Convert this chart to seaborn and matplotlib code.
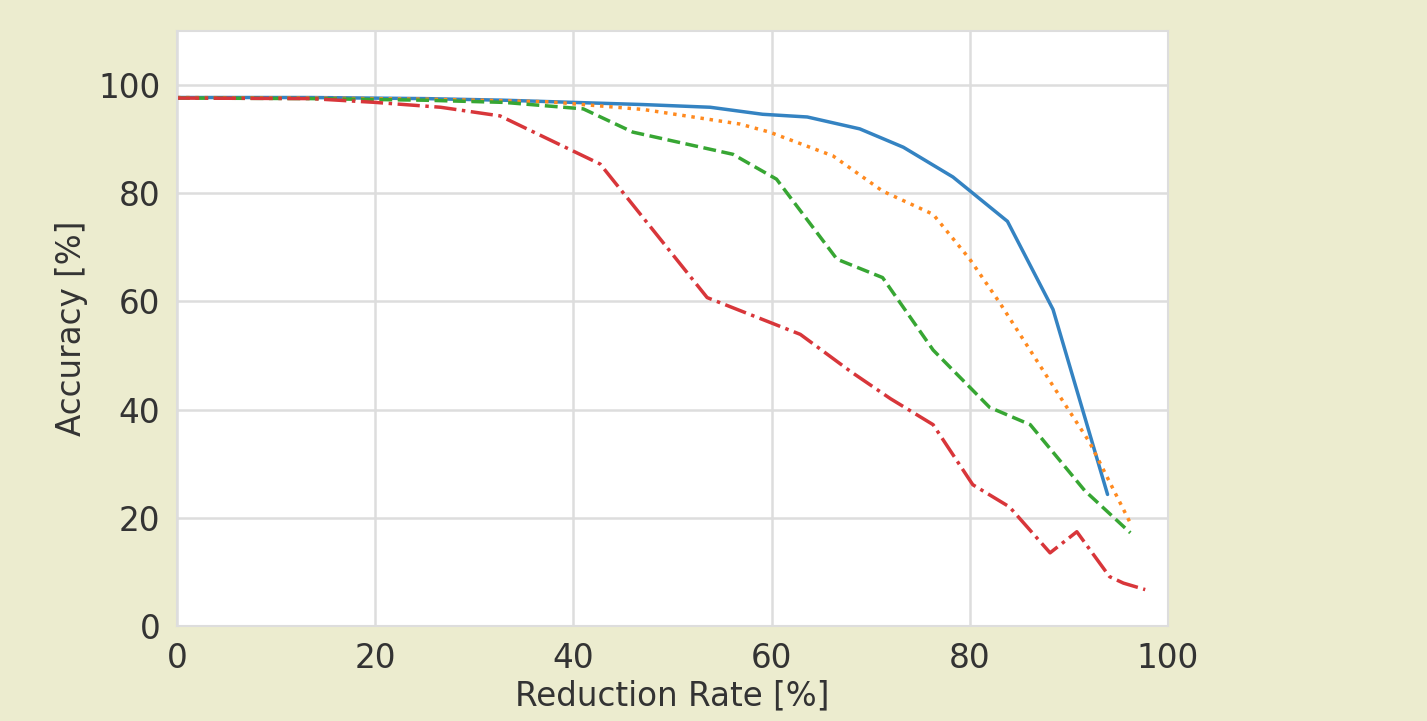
"""
Accuracy vs. reduction rate for four pruning curves.
"""

import numpy as np
import pandas as pd
import matplotlib
matplotlib.use("Agg")
import matplotlib.pyplot as plt
import seaborn as sns

# data
blue_x = [0, 13.5, 25, 33, 40, 47, 53.8, 59.1, 63.6, 68.9, 73.3, 78.3, 83.8, 88.4, 93.9]
blue_y = [97.7, 97.7, 97.5, 97.2, 96.8, 96.4, 95.9, 94.6, 94.1, 91.9, 88.5, 83.0, 74.8, 58.5, 24.3]

orange_x = [0, 13.5, 25, 33, 37.6, 47, 56.8, 59.8, 66.2, 71.2, 76.3, 80.0, 83.0, 88.0, 92.1, 96.2]
orange_y = [97.7, 97.6, 97.4, 97.1, 96.9, 95.5, 92.8, 91.3, 86.9, 80.4, 76.1, 67.8, 59.8, 45.5, 33.9, 19.0]

green_x = [0, 13.5, 25, 33, 41.0, 46.0, 56.1, 60.5, 66.6, 71.2, 76.3, 82.0, 86.1, 91.6, 96.2]
green_y = [97.6, 97.5, 97.2, 96.8, 95.6, 91.3, 87.2, 82.6, 67.8, 64.4, 51.0, 40.4, 37.2, 25.0, 17.2]

red_x = [0, 13.5, 20, 26.6, 32.6, 42.7, 53.5, 62.9, 68.0, 72.0, 76.3, 80.3, 84.0, 88.1, 90.8, 94.1, 95.5, 97.7]
red_y = [97.6, 97.5, 96.8, 95.9, 94.3, 85.4, 60.7, 53.9, 47.0, 42.0, 37.2, 26.1, 22.0, 13.5, 17.4, 9.1, 7.9, 6.7]

x_ticks = [0, 20, 40, 60, 80, 100]
y_ticks = [0, 20, 40, 60, 80, 100]

series = [
    (blue_x, blue_y, "#3483c2", "-"),
    (orange_x, orange_y, "#ff8a1f", ":"),
    (green_x, green_y, "#37a633", "--"),
    (red_x, red_y, "#d8363a", "-."),
]


def main():
    sns.set_theme(style="whitegrid")
    plt.rcParams["font.family"] = ["DejaVu Sans"]
    plt.rcParams["text.color"] = "#333333"
    plt.rcParams["axes.labelcolor"] = "#333333"
    plt.rcParams["xtick.color"] = "#333333"
    plt.rcParams["ytick.color"] = "#333333"

    bg = "#ececcf"
    fig = plt.figure(figsize=(14.27, 7.21), dpi=100, facecolor=bg)
    ax = fig.add_axes([0.124, 0.132, 0.6945, 0.825])

    for xs, ys, color, ls in series:
        df = pd.DataFrame({"x": xs, "y": ys})
        sns.lineplot(data=df, x="x", y="y", ax=ax, color=color,
                     linestyle=ls, linewidth=2.5, estimator=None, sort=False)

    ax.set_xlim(0, 100)
    ax.set_ylim(0, 110)
    ax.set_xticks(x_ticks)
    ax.set_yticks(y_ticks)
    ax.tick_params(labelsize=23.5, pad=6)
    ax.set_xlabel("Reduction Rate [%]", fontsize=23.5, labelpad=3)
    ax.set_ylabel("Accuracy [%]", fontsize=23.5, labelpad=7)
    for s in ax.spines.values():
        s.set_color("#dddddd")
        s.set_linewidth(1.5)
    ax.grid(color="#dddddd", linewidth=1.8)

    fig.savefig("out.png", dpi=100, facecolor=bg)
    plt.close(fig)


if __name__ == "__main__":
    main()
